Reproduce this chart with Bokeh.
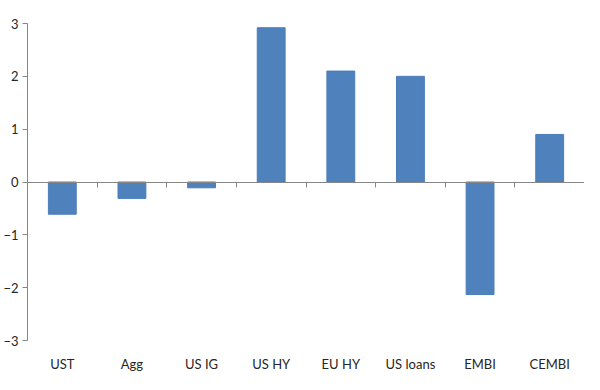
from bokeh.plotting import figure
from bokeh.models import FactorRange, Range1d, LinearAxis, CategoricalAxis, FixedTicker
from bokeh.embed import file_html
from bokeh.resources import INLINE

categories = ["UST", "Agg", "US IG", "US HY", "EU HY", "US loans", "EMBI", "CEMBI"]
values = [-0.61, -0.31, -0.11, 2.92, 2.10, 2.00, -2.13, 0.90]
y_ticks = [-3, -2, -1, 0, 1, 2, 3]
boundary_ticks = list(range(len(categories) + 1))

FONT = "Lato"
TEXT = "#262626"
AXIS = "#868686"

p = figure(
    width=584, height=374,
    x_range=FactorRange(*categories, range_padding=0),
    y_range=Range1d(-3, 3),
    output_backend="svg", toolbar_location=None,
    x_axis_location=None, y_axis_location=None,
    min_border_left=0, min_border_right=0, min_border_top=23, min_border_bottom=33,
)
p.outline_line_color = None
p.xgrid.grid_line_color = None
p.ygrid.grid_line_color = None
p.background_fill_color = "white"
p.border_fill_color = "white"

p.vbar(x=categories, top=values, bottom=0, width=0.4, fill_color="#4F81BD", line_color="#4A7EBB")

# left value axis
yax = LinearAxis(ticker=FixedTicker(ticks=y_ticks))
yax.axis_line_color = AXIS
yax.major_tick_line_color = AXIS
yax.major_tick_out = 5
yax.major_tick_in = 0
yax.minor_tick_line_color = None
yax.major_label_text_font = FONT
yax.major_label_text_font_size = "13px"
yax.major_label_text_color = TEXT
yax.major_label_standoff = 4
p.add_layout(yax, "left")

# category axis line at zero with tick marks between categories
zax = LinearAxis(ticker=FixedTicker(ticks=boundary_ticks), fixed_location=0)
zax.axis_line_color = AXIS
zax.major_tick_line_color = AXIS
zax.major_tick_out = 5
zax.major_tick_in = 0
zax.minor_tick_line_color = None
zax.major_label_text_font_size = "0px"
zax.major_label_text_alpha = 0
p.add_layout(zax, "below")

# category labels at the bottom
xax = CategoricalAxis()
xax.axis_line_color = None
xax.major_tick_line_color = None
xax.minor_tick_line_color = None
xax.major_label_text_font = FONT
xax.major_label_text_font_size = "13px"
xax.major_label_text_color = TEXT
xax.major_label_standoff = 9
p.add_layout(xax, "below")

open("out.html", "w").write(file_html(p, INLINE))
